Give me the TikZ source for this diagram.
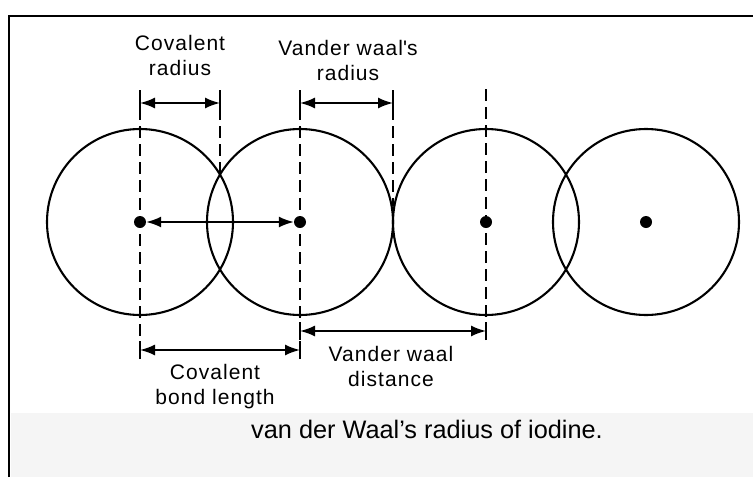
\documentclass[tikz,border=0pt]{standalone}
\usepackage{fontspec}
\setmainfont{Liberation Sans}
\newfontfamily\labfont[LetterSpace=5]{Liberation Sans}
\usetikzlibrary{arrows.meta}
\begin{document}
\begin{tikzpicture}[x=1pt,y=-1pt,
  atom/.style={draw,line width=2.1pt,circle,minimum size=186pt,inner sep=0pt},
  dot/.style={circle,fill,inner sep=0pt,minimum size=12pt},
  guide/.style={line width=2.1pt,dash pattern=on 12pt off 6pt},
  dim/.style={line width=1.8pt,{Latex[length=15pt,width=11pt]}-{Latex[length=15pt,width=11pt]}},
  tick/.style={line width=2.1pt},
  lbl/.style={font=\labfont\fontsize{21}{24.5}\selectfont,align=center,inner sep=0pt},
  captext/.style={font=\fontsize{25.3}{30}\selectfont,inner sep=0pt},
  frame/.style={line width=2.6pt}]
\useasboundingbox (0,0) rectangle (753,477);
\fill[white] (0,0) rectangle (753,477);
\fill[black!4] (11,413) rectangle (753,477);
% frame
\coordinate (f1) at (9,477);
\coordinate (f2) at (9,16);
\coordinate (f3) at (753,16);
\draw[frame] (f1) -- (f2) -- (f3);
% atoms
\node[atom] (a1) at (140,222) {};
\node[atom] (a2) at (300,222) {};
\node[atom] (a3) at (486,222) {};
\node[atom] (a4) at (646,222) {};
\node[dot] (c1) at (140,222) {};
\node[dot] (c2) at (300,222) {};
\node[dot] (c3) at (486,222) {};
\node[dot] (c4) at (646,222) {};
% guides
\coordinate (g1t) at (140,90);  \coordinate (g1b) at (140,356);
\coordinate (g2t) at (220,90);  \coordinate (g2b) at (220,176);
\coordinate (g3t) at (300,90);  \coordinate (g3b) at (300,356);
\coordinate (g4t) at (393,90);  \coordinate (g4b) at (393,206);
\coordinate (g5t) at (486,89);  \coordinate (g5b) at (486,338);
\draw[guide] (g1t) -- (g1b);
\draw[guide] (g2t) -- (g2b);
\draw[guide] (g3t) -- (g3b);
\draw[guide] (g4t) -- (g4b);
\draw[guide] (g5t) -- (g5b);
% dimension arrows
\coordinate (cr1) at (140,103); \coordinate (cr2) at (220,103);
\coordinate (vr1) at (300,103); \coordinate (vr2) at (393,103);
\coordinate (bl1) at (140,350); \coordinate (bl2) at (300,350);
\coordinate (vd1) at (300,331); \coordinate (vd2) at (486,331);
\draw[dim] (cr1) -- (cr2);
\draw[dim] (vr1) -- (vr2);
\draw[dim] (bl1) -- (bl2);
\draw[dim] (vd1) -- (vd2);
\draw[dim] (c1) -- (c2);
\foreach \p in {cr1,cr2,vr1,vr2,bl1,bl2,vd1,vd2}
  \draw[tick] ([yshift=-9pt]\p) -- ([yshift=9pt]\p);
% labels (base = baseline of last line)
\node[lbl,anchor=base] (l1) at (180,75) {Covalent\\radius};
\node[lbl,anchor=base] (l2) at (348,80) {Vander waal\textquotesingle s\\radius};
\node[lbl,anchor=base] (l3) at (215,404) {Covalent\\bond length};
\node[lbl,anchor=base] (l4) at (391,386) {Vander waal\\distance};
\node[captext,anchor=base] (l5) at (427,438) {van der Waal’s radius of iodine.};
\end{tikzpicture}
\end{document}
